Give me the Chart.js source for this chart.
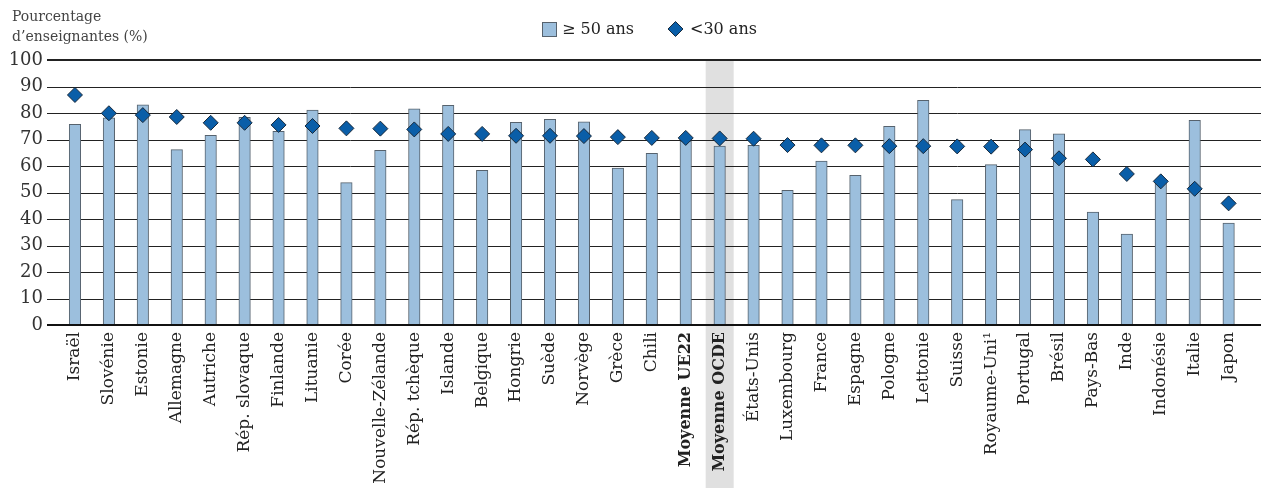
<!DOCTYPE html>
<html><head><meta charset="utf-8">
<script src="https://cdn.jsdelivr.net/npm/chart.js@4/dist/chart.umd.min.js"></script>
<style>html,body{margin:0;padding:0;background:#fff;}#wrap{width:1261px;height:488px;position:relative;}canvas{display:block;}</style>
</head><body><div id="wrap"><canvas id="c" width="1261" height="488"></canvas></div>
<script>
const categories = ['Israël','Slovénie','Estonie','Allemagne','Autriche','Rép. slovaque','Finlande','Lituanie','Corée','Nouvelle-Zélande','Rép. tchèque','Islande','Belgique','Hongrie','Suède','Norvège','Grèce','Chili','Moyenne UE22','Moyenne OCDE','États-Unis','Luxembourg','France','Espagne','Pologne','Lettonie','Suisse','Royaume-Uni¹','Portugal','Brésil','Pays-Bas','Inde','Indonésie','Italie','Japon'];
const over50 = [75.7,78.2,83.1,66.2,71.6,78.4,73.1,81.1,53.7,65.9,81.6,82.9,58.4,76.5,77.6,76.7,59.2,64.8,69.4,67.5,67.8,50.8,61.9,56.5,75.0,84.8,47.3,60.5,73.7,72.1,42.6,34.3,54.1,77.2,38.5];
const under30 = [86.8,79.9,79.2,78.5,76.3,76.3,75.5,75.1,74.2,74.1,73.8,72.1,72.1,71.4,71.4,71.3,70.9,70.6,70.6,70.4,70.3,67.9,67.8,67.8,67.5,67.5,67.4,67.3,66.2,62.9,62.5,57.0,54.2,51.4,45.9];
const yTicks = [0,10,20,30,40,50,60,70,80,90,100];
const seriesNames = ['≥ 50 ans','<30 ans'];
const axisTitle = ['Pourcentage','d’enseignantes (%)'];
const boldCategories = ['Moyenne UE22','Moyenne OCDE'];
const highlightCategory = 'Moyenne OCDE';

const FONT = '"DejaVu Serif", serif';
const BAR_FILL = '#9cbfdd', BAR_BORDER = '#56626d';
const DIA_FILL = '#0a5ea8', DIA_BORDER = '#17293b';

const decor = {
  id: 'decor',
  beforeDraw(chart) {
    const {ctx, chartArea, scales} = chart;
    const i = categories.indexOf(highlightCategory);
    const x = scales.x.getPixelForValue(i);
    ctx.save();
    ctx.fillStyle = '#e0e0e0';
    ctx.fillRect(x - 14, chartArea.top, 28, chart.height - chartArea.top);
    ctx.restore();
  },
  beforeDatasetsDraw(chart) {
    const {ctx, scales} = chart;
    ctx.save();
    ctx.strokeStyle = '#222';
    yTicks.forEach(v => {
      if (v === 0) return;
      const y = Math.round(scales.y.getPixelForValue(v));
      ctx.lineWidth = v === 100 ? 2 : 1;
      ctx.beginPath();
      const yy = v === 100 ? y : y + 0.5;
      ctx.moveTo(47, yy); ctx.lineTo(chart.width, yy);
      ctx.stroke();
    });
    ctx.restore();
  },
  afterDatasetsDraw(chart) {
    const {ctx, scales} = chart;
    const y = Math.round(scales.y.getPixelForValue(0));
    ctx.save();
    ctx.strokeStyle = '#111';
    ctx.lineWidth = 2;
    ctx.beginPath(); ctx.moveTo(47, y); ctx.lineTo(chart.width, y); ctx.stroke();
    ctx.restore();
  },
  afterDraw(chart) {
    const {ctx} = chart;
    ctx.save();
    // axis title
    ctx.fillStyle = '#444';
    ctx.font = '14px ' + FONT;
    ctx.textBaseline = 'alphabetic';
    ctx.textAlign = 'left';
    ctx.fillText(axisTitle[0], 12, 21);
    ctx.fillText(axisTitle[1], 12, 41);
    // legend
    const cy = 29;
    let x = 542;
    ctx.fillStyle = BAR_FILL; ctx.strokeStyle = BAR_BORDER; ctx.lineWidth = 1;
    ctx.fillRect(x, cy - 7, 15, 15);
    ctx.strokeRect(x + 0.5, cy - 6.5, 14, 14);
    ctx.font = '16px ' + FONT;
    ctx.fillStyle = '#222';
    ctx.textBaseline = 'middle';
    ctx.fillText(seriesNames[0], x + 20, cy + 1);
    x = x + 20 + ctx.measureText(seriesNames[0]).width + 34;
    const r = 7.5, dx = x + r;
    ctx.beginPath();
    ctx.moveTo(dx, cy - r); ctx.lineTo(dx + r, cy); ctx.lineTo(dx, cy + r); ctx.lineTo(dx - r, cy); ctx.closePath();
    ctx.fillStyle = DIA_FILL; ctx.fill();
    ctx.strokeStyle = DIA_BORDER; ctx.stroke();
    ctx.fillStyle = '#222';
    ctx.fillText(seriesNames[1], x + 2 * r + 7, cy + 1);
    ctx.restore();
  }
};

new Chart(document.getElementById('c'), {
  type: 'bar',
  data: {
    labels: categories,
    datasets: [
      {
        type: 'line', label: seriesNames[1], data: under30, order: 1,
        showLine: false, pointStyle: 'rectRot', pointRadius: 7.5, pointHoverRadius: 7.5,
        pointBackgroundColor: DIA_FILL, pointBorderColor: DIA_BORDER, pointBorderWidth: 1
      },
      {
        label: seriesNames[0], data: over50, order: 2,
        backgroundColor: BAR_FILL, borderColor: BAR_BORDER, borderWidth: 1,
        barThickness: 11.5
      }
    ]
  },
  options: {
    responsive: false, animation: false, devicePixelRatio: 1,
    layout: {padding: {top: 60, right: 15.4, bottom: 0, left: 0}},
    plugins: {legend: {display: false}, tooltip: {enabled: false}, title: {display: false}},
    scales: {
      x: {
        grid: {display: false, drawTicks: false}, border: {display: false},
        afterFit: s => { s.height = 163; },
        ticks: {
          autoSkip: false, minRotation: 90, maxRotation: 90, padding: 7, color: '#222',
          font: c => {
            const bold = boldCategories.includes(categories[c.index]);
            return {family: FONT, size: bold ? 16 : 17, weight: bold ? 'bold' : 'normal'};
          }
        }
      },
      y: {
        min: 0, max: 100,
        grid: {display: false, drawTicks: false}, border: {display: false},
        afterFit: s => { s.width = 58; },
        afterBuildTicks: s => { s.ticks = yTicks.map(v => ({value: v})); },
        ticks: {padding: 15, color: '#333', font: {family: FONT, size: 18}}
      }
    }
  },
  plugins: [decor]
});
</script></body></html>
